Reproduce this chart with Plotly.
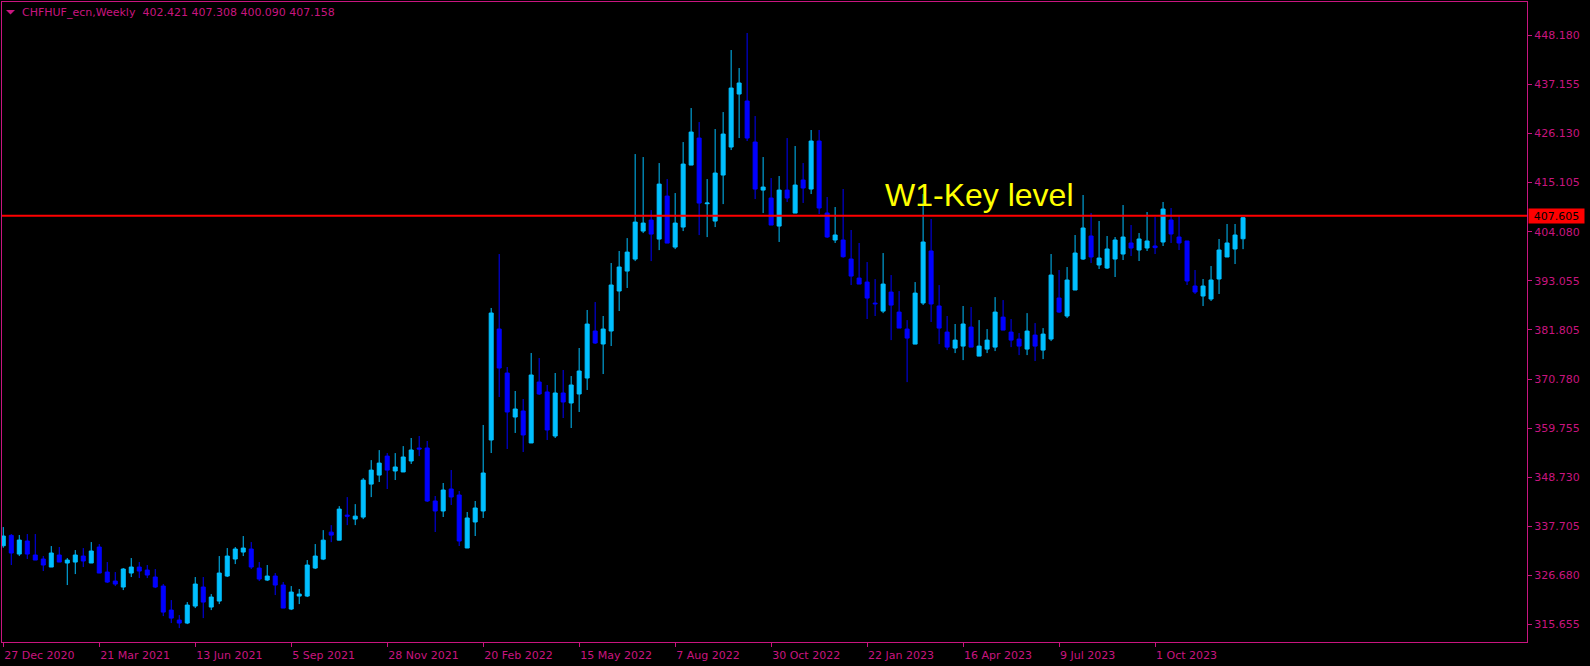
import pandas as pd
import plotly.graph_objects as go

# ---- data (CHFHUF weekly) ----
start_week = "2020-12-27"
opens = [333.38,335.71,331.51,334.44,331.29,330.39,328.59,331.29,329.49,329.71,
         331.06,329.49,333.09,327.46,325.44,324.09,327.24,328.59,327.91,326.34,
         324.31,318.91,316.66,315.99,319.81,324.09,319.59,320.94,326.56,330.39,
         331.96,332.64,328.36,325.66,326.56,324.54,319.14,322.06,322.06,328.36,
         330.37,336.44,334.64,340.27,339.37,339.82,347.24,349.27,353.54,350.19,
         349.97,352.44,355.36,355.36,343.44,341.19,346.14,344.79,332.87,338.72,
         341.19,357.16,382.12,372.22,362.33,363.68,356.49,370.20,367.96,358.06,
         367.73,365.48,367.51,371.10,381.67,378.75,381.67,390.67,395.15,397.85,
         404.15,406.62,402.35,412.02,400.55,405.05,418.99,425.07,410.30,406.40,
         416.75,423.05,434.97,433.40,424.17,413.37,411.58,405.27,413.37,408.20,
         415.63,413.60,424.40,408.21,402.14,402.14,397.86,393.58,392.68,387.95,
         386.15,390.43,385.93,382.11,378.73,387.97,399.67,387.30,381.43,377.83,
         378.28,382.56,376.03,377.61,378.05,384.80,381.43,379.86,377.61,380.76,
         377.38,379.86,389.09,385.04,390.89,397.86,403.04,396.52,395.84,397.86,
         398.99,401.47,399.89,400.34,400.79,401.69,406.64,402.81,401.92,391.79,
         389.54,388.87,393.37,398.32,400.12,402.421]
highs = [337.58,336.01,335.79,336.01,336.01,331.06,333.31,333.09,330.61,332.41,
         332.86,334.21,333.76,329.71,327.46,328.36,330.61,329.71,329.04,328.14,
         324.76,321.16,317.79,320.71,326.34,326.34,322.51,331.06,332.86,333.09,
         335.56,334.21,329.71,329.04,327.24,325.21,324.31,323.64,330.16,333.76,
         336.89,338.02,342.29,344.32,342.74,348.59,352.64,354.89,354.22,354.22,
         355.79,357.61,358.06,356.94,344.56,347.49,350.41,345.69,340.97,343.44,
         360.54,386.85,398.99,373.58,368.18,366.38,376.73,375.60,369.53,372.23,
         372.90,371.55,377.85,386.40,388.19,385.05,396.97,399.67,402.57,421.47,
         420.80,408.87,419.45,415.85,412.70,424.17,431.82,428.67,415.85,427.10,
         430.92,444.87,440.82,448.70,430.02,420.80,416.08,416.53,425.07,423.28,
         419.45,426.88,426.88,411.81,409.56,413.61,404.39,401.47,397.18,393.36,
         399.21,394.26,390.65,384.13,392.68,412.49,406.87,392.01,385.05,383.25,
         387.30,387.07,384.13,382.11,389.30,388.63,384.37,381.21,385.70,383.46,
         382.33,398.99,395.39,396.06,403.26,412.26,408.21,406.41,403.04,402.81,
         410.01,405.51,403.71,408.44,407.31,410.69,409.34,407.54,401.92,395.39,
         393.37,396.29,402.37,405.74,405.74,407.308]
lows = [332.93,329.04,331.06,330.39,330.16,327.69,328.59,329.71,324.54,327.01,
        328.59,329.49,327.24,324.99,324.31,323.41,326.34,326.11,326.11,323.86,
        317.56,315.99,314.86,315.76,319.36,317.11,318.91,320.26,326.34,329.26,
        331.06,328.14,325.44,325.44,322.29,319.36,318.91,320.26,321.84,328.14,
        330.14,334.19,334.64,338.02,338.02,339.37,344.32,347.71,346.14,348.16,
        349.97,351.77,353.54,343.22,336.47,339.84,342.54,333.32,332.87,335.57,
        339.62,354.23,366.83,355.14,358.74,354.46,356.49,367.28,357.16,357.61,
        362.11,359.86,363.46,368.41,378.75,372.00,378.30,386.17,391.35,397.40,
        403.70,397.40,399.87,401.45,400.10,404.15,418.99,403.25,402.80,405.05,
        410.22,422.37,425.07,424.40,411.35,408.20,405.50,401.70,410.68,408.20,
        410.47,412.48,407.99,402.59,401.47,398.16,392.01,392.23,384.37,385.05,
        385.70,379.63,382.33,370.18,378.73,387.52,383.70,378.73,377.38,376.71,
        375.13,378.05,376.03,376.71,377.16,381.88,378.05,376.26,376.26,374.92,
        375.36,379.41,385.71,384.59,390.89,397.64,396.96,395.62,395.62,393.82,
        397.64,398.54,397.42,399.67,398.99,400.79,401.47,399.89,392.02,389.99,
        387.29,388.42,390.00,398.32,396.74,400.090]
closes = [335.56,331.74,334.66,331.51,330.16,329.04,331.74,329.71,330.16,331.29,
          329.94,332.19,327.24,325.21,324.76,328.14,328.59,327.69,326.79,324.09,
          318.46,317.11,315.99,320.04,324.76,320.71,321.84,327.24,331.06,332.64,
          332.86,328.59,325.89,326.56,324.54,319.36,322.96,322.51,329.04,331.06,
          334.64,335.77,341.62,340.04,340.04,348.14,350.39,351.97,350.39,351.09,
          353.34,354.91,355.14,343.44,341.19,345.91,344.34,334.44,339.62,341.87,
          349.74,385.72,373.35,363.46,364.13,358.29,371.78,367.51,359.41,367.73,
          365.71,369.53,372.68,383.24,378.97,382.12,392.02,396.07,399.42,406.17,
          405.95,403.47,414.72,401.45,405.95,419.22,426.42,410.45,410.45,417.20,
          425.97,436.32,437.45,425.07,413.60,414.05,405.50,413.37,411.58,414.50,
          413.83,424.40,409.34,402.82,403.27,398.38,394.03,392.23,389.08,387.80,
          392.23,387.50,382.33,380.08,390.20,401.69,387.75,382.33,378.05,379.63,
          383.25,378.05,378.28,379.63,385.93,381.88,379.63,378.28,381.66,378.28,
          380.98,394.26,385.94,393.14,399.21,404.84,398.32,398.09,400.12,402.14,
          402.81,400.34,402.37,401.92,400.42,409.11,403.49,401.47,392.92,390.44,
          391.79,393.14,399.89,401.47,403.26,407.158]

price_ticks = [448.180, 437.155, 426.130, 415.105, 404.080, 393.055, 381.805,
               370.780, 359.755, 348.730, 337.705, 326.680, 315.655]
date_ticks = ["2020-12-27", "2021-03-21", "2021-06-13", "2021-09-05", "2021-11-28",
              "2022-02-20", "2022-05-15", "2022-08-07", "2022-10-30", "2023-01-22",
              "2023-04-16", "2023-07-09", "2023-10-01"]
date_tick_labels = ["27 Dec 2020", "21 Mar 2021", "13 Jun 2021", "5 Sep 2021",
                    "28 Nov 2021", "20 Feb 2022", "15 May 2022", "7 Aug 2022",
                    "30 Oct 2022", "22 Jan 2023", "16 Apr 2023", "9 Jul 2023",
                    "1 Oct 2023"]
key_level = 407.605
key_label = "W1-Key level"
title_text = "CHFHUF_ecn,Weekly  402.421 407.308 400.090 407.158"

# ---- styling ----
FG = "#C8157F"
BULL = "#00BFFF"
BEAR = "#0000FF"
FONT = "DejaVu Sans"

dates = pd.date_range(start_week, periods=len(opens), freq="7D")
week = pd.Timedelta(days=7)
x0 = pd.Timestamp(start_week)

fig = go.Figure(go.Candlestick(
    x=dates, open=opens, high=highs, low=lows, close=closes,
    increasing=dict(line=dict(color=BULL, width=1), fillcolor=BULL),
    decreasing=dict(line=dict(color=BEAR, width=1), fillcolor=BEAR),
    whiskerwidth=0, hoverinfo="skip", showlegend=False,
))

# Y tick positions: evenly spaced as drawn by the terminal
step = (price_ticks[0] - price_ticks[-1]) / (len(price_ticks) - 1)
tick_pos = [price_ticks[0] - i * step for i in range(len(price_ticks))]

fig.update_layout(
    width=1590, height=666,
    margin=dict(l=2, r=63, t=2, b=24, autoexpand=False),
    paper_bgcolor="black", plot_bgcolor="black",
    boxgap=0.5, boxgroupgap=0,
    showlegend=False,
    xaxis=dict(
        type="date",
        range=[x0 - 0.16 * week, x0 + 190.5 * week],
        rangeslider=dict(visible=False),
        showgrid=False, zeroline=False,
        showline=True, linecolor=FG, linewidth=1, mirror=True,
        ticks="outside", ticklen=4, tickcolor=FG, tickwidth=1,
        tickvals=[pd.Timestamp(d) for d in date_ticks],
        ticktext=date_tick_labels,
        ticklabelposition="outside right",
        ticklabelstandoff=3,
        tickfont=dict(family=FONT, size=11, color=FG),
    ),
    yaxis=dict(
        side="right",
        range=[311.73, 455.67],
        showgrid=False, zeroline=False,
        showline=True, linecolor=FG, linewidth=1, mirror=True,
        ticks="outside", ticklen=4, tickcolor=FG, tickwidth=1,
        tickvals=tick_pos,
        ticktext=[f"{v:.3f}" for v in price_ticks],
        tickfont=dict(family=FONT, size=11, color=FG),
    ),
)

# key level line
fig.add_shape(type="line", xref="paper", x0=0, x1=1, yref="y",
              y0=key_level, y1=key_level,
              line=dict(color="#FF0000", width=2), layer="above")

# price label box on the right axis
fig.add_annotation(xref="paper", x=1, xanchor="left", xshift=1,
                   yref="y", y=key_level, yanchor="middle",
                   text=f"{key_level:.3f}", showarrow=False,
                   bgcolor="#FF0000", borderpad=1, width=53, height=12,
                   font=dict(family=FONT, size=11, color="black"))

# key level text
fig.add_annotation(xref="x", x=x0 + 109.95 * week, xanchor="left",
                   yref="y", y=412.2, yanchor="middle",
                   text=key_label, showarrow=False,
                   font=dict(family="Liberation Sans", size=32, color="#FFFF00"))

# header text
fig.add_annotation(xref="paper", x=(19.5 - 2) / 1525, xanchor="left",
                   yref="paper", y=(642 - 12) / 640, yanchor="middle",
                   text=title_text, showarrow=False,
                   font=dict(family=FONT, size=11, color=FG))
# small down-pointing triangle
tx = lambda px: (px - 2) / 1525
ty = lambda py: (642 - py) / 640
fig.add_shape(type="path", xref="paper", yref="paper",
              path=f"M {tx(6)} {ty(10)} L {tx(15)} {ty(10)} L {tx(10.5)} {ty(14.5)} Z",
              fillcolor=FG, line=dict(width=0), layer="above")

fig.write_html("out.html",
               config={"displayModeBar": False},
               post_script="document.body.style.margin='0px';"
                           "document.body.style.padding='0px';"
                           "document.body.style.overflow='hidden';")
